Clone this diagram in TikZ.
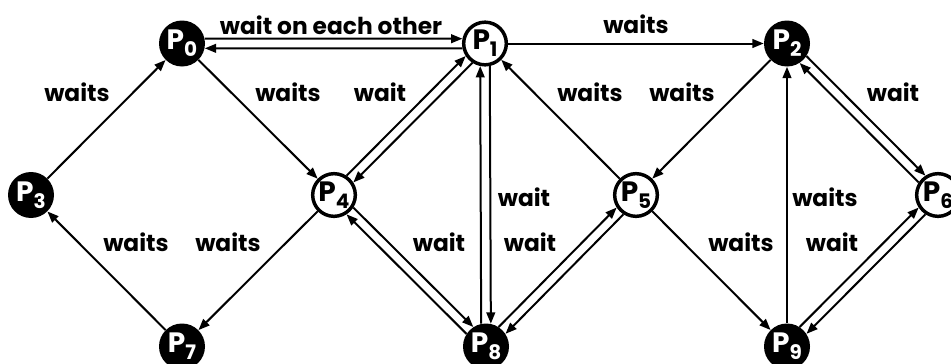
\documentclass[tikz,border=0pt]{standalone}
\usepackage{fontspec}
\setmainfont{Poppins}
\usetikzlibrary{arrows.meta}

% process label: capital P with a lowered index digit
\newcommand{\proc}[1]{P\raisebox{-5.5pt}{\fontsize{15}{15}\selectfont #1}}

\begin{document}
\begin{tikzpicture}[x=0.75pt,y=-0.75pt,
  procnode/.style={circle,inner sep=0pt,
    font=\fontsize{21}{21}\selectfont\bfseries},
  blackproc/.style={procnode,minimum size=34.5pt,fill=black,text=white},
  whiteproc/.style={procnode,minimum size=32pt,draw=black,line width=2.6pt,
    fill=white,text=black},
  waitlbl/.style={inner sep=0pt,font=\fontsize{17.5}{17.5}\selectfont\bfseries},
  arr/.style={line width=1.5pt,-{Triangle[length=8.5pt,width=6.5pt]}}
]
\useasboundingbox (0,0) rectangle (951,364);

% processes on a diamond lattice
\node[blackproc] (P0) at (182,43.5) {\proc{0}};
\node[whiteproc] (P1) at (485,43.5) {\proc{1}};
\node[blackproc] (P2) at (787,43.5) {\proc{2}};
\node[blackproc] (P3) at (31,195)   {\proc{3}};
\node[whiteproc] (P4) at (334,195)  {\proc{4}};
\node[whiteproc] (P5) at (636,195)  {\proc{5}};
\node[whiteproc] (P6) at (938,195)  {\proc{6}};
\node[blackproc] (P7) at (182,346.5) {\proc{7}};
\node[blackproc] (P8) at (486,346.5) {\proc{8}};
\node[blackproc] (P9) at (787,346.5) {\proc{9}};

% one-way waits
\draw[arr] (P3) -- (P0);
\draw[arr] (P0) -- (P4);
\draw[arr] (P4) -- (P7);
\draw[arr] (P7) -- (P3);
\draw[arr] (P1) -- (P2);
\draw[arr] (P5) -- (P1);
\draw[arr] (P2) -- (P5);
\draw[arr] (P5) -- (P9);
\draw[arr] (P9) -- (P2);

% mutual waits: a pair of parallel arrows, one per direction
\draw[arr] (P0.12)  -- (P1.168);
\draw[arr] (P1.192) -- (P0.348);
\draw[arr] (P4.57)  -- (P1.213);
\draw[arr] (P1.237) -- (P4.33);
\draw[arr] (P8.102) -- (P1.258);
\draw[arr] (P1.282) -- (P8.78);
\draw[arr] (P4.327) -- (P8.123);
\draw[arr] (P8.147) -- (P4.303);
\draw[arr] (P8.57)  -- (P5.213);
\draw[arr] (P5.237) -- (P8.33);
\draw[arr] (P2.327) -- (P6.123);
\draw[arr] (P6.147) -- (P2.303);
\draw[arr] (P9.57)  -- (P6.213);
\draw[arr] (P6.237) -- (P9.33);

% labels
\node[waitlbl] (l01)  at (331,25)  {wait on each other};
\node[waitlbl] (l12)  at (636,24)  {waits};
\node[waitlbl] (l30)  at (77,92)   {waits};
\node[waitlbl] (l04)  at (288,92)  {waits};
\node[waitlbl] (l41)  at (380,92)  {wait};
\node[waitlbl] (l51)  at (590,92)  {waits};
\node[waitlbl] (l25)  at (682,92)  {waits};
\node[waitlbl] (l26)  at (893,92)  {wait};
\node[waitlbl] (l18)  at (524,197) {wait};
\node[waitlbl] (l92)  at (825,197) {waits};
\node[waitlbl] (l73)  at (136,242) {waits};
\node[waitlbl] (l47)  at (228,242) {waits};
\node[waitlbl] (l48)  at (439,242) {wait};
\node[waitlbl] (l85)  at (530,242) {wait};
\node[waitlbl] (l59)  at (741,242) {waits};
\node[waitlbl] (l96)  at (832,242) {wait};
\end{tikzpicture}
\end{document}
